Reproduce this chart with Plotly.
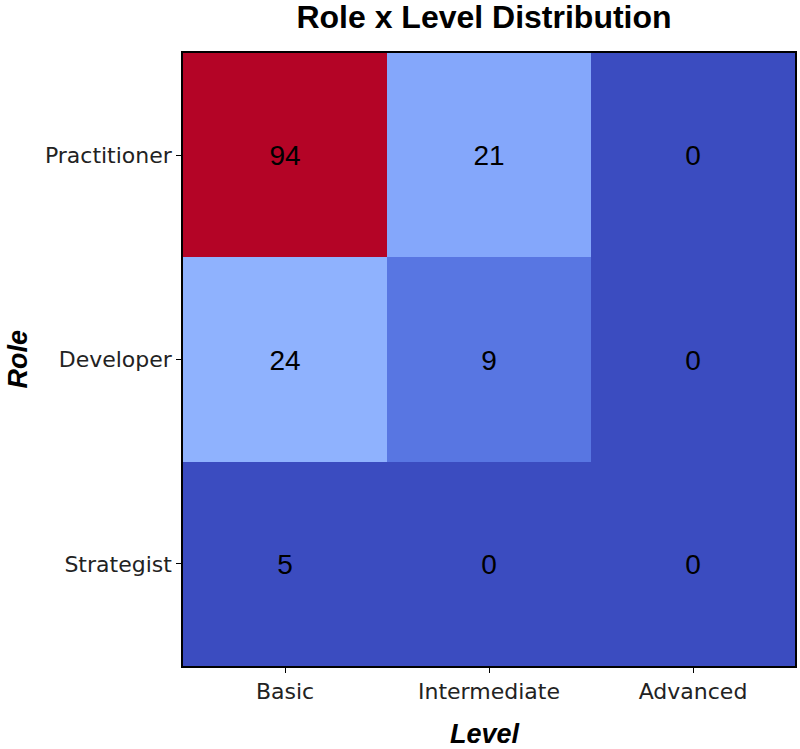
import plotly.graph_objects as go

roles = ["Practitioner", "Developer", "Strategist"]
levels = ["Basic", "Intermediate", "Advanced"]
counts = [
    [94, 21, 0],
    [24, 9, 0],
    [5, 0, 0],
]

coolwarm = [
    (0.0, (59, 76, 192)), (0.03125, (68, 90, 204)), (0.0625, (77, 104, 215)),
    (0.09375, (87, 117, 225)), (0.125, (98, 130, 234)), (0.15625, (108, 142, 241)),
    (0.1875, (119, 154, 247)), (0.21875, (130, 165, 251)), (0.25, (141, 176, 254)),
    (0.28125, (152, 185, 255)), (0.3125, (163, 194, 255)), (0.34375, (174, 201, 253)),
    (0.375, (184, 208, 249)), (0.40625, (194, 213, 244)), (0.4375, (204, 217, 238)),
    (0.46875, (213, 219, 230)), (0.5, (221, 221, 221)), (0.53125, (229, 216, 209)),
    (0.5625, (236, 211, 197)), (0.59375, (241, 204, 184)), (0.625, (245, 196, 172)),
    (0.65625, (247, 187, 159)), (0.6875, (247, 177, 147)), (0.71875, (247, 166, 134)),
    (0.75, (244, 154, 123)), (0.78125, (241, 141, 111)), (0.8125, (236, 127, 99)),
    (0.84375, (229, 112, 88)), (0.875, (222, 96, 77)), (0.90625, (213, 80, 66)),
    (0.9375, (203, 62, 56)), (0.96875, (192, 40, 47)), (1.0, (180, 4, 38)),
]
# lowest band (small counts) shares the base colour, as in the reference
floor = 0.07
colorscale = [[0.0, "rgb(59,76,192)"], [floor, "rgb(59,76,192)"], [floor + 0.0001, "rgb(79,107,217)"]]
colorscale += [[p, "rgb(%d,%d,%d)" % c] for p, c in coolwarm if p > floor]

ARIAL = "Liberation Sans, Arial, sans-serif"

fig = go.Figure(go.Heatmap(
    z=counts, x=levels, y=roles,
    colorscale=colorscale, zmin=0, zmax=94,
    showscale=False,
    text=counts, texttemplate="%{text}",
    textfont=dict(family=ARIAL, size=28, color="black"),
    xgap=0, ygap=0,
))

tickfont = dict(family="DejaVu Sans, sans-serif", size=22, color="#222")
fig.update_layout(
    width=800, height=749,
    margin=dict(l=183, r=5, t=53, b=83),
    paper_bgcolor="white", plot_bgcolor="white",
    title=dict(text="<b>Role x Level Distribution</b>", x=484 / 800, xanchor="center",
               xref="container", yref="container", y=0.993, yanchor="top",
               font=dict(family=ARIAL, size=32, color="black")),
    xaxis=dict(showline=True, mirror=True, linecolor="black", linewidth=1.5,
               ticks="outside", ticklen=5, tickcolor="black", tickfont=tickfont,
               automargin=False),
    yaxis=dict(showline=True, mirror=True, linecolor="black", linewidth=1.5,
               autorange="reversed", automargin=False,
               ticks="outside", ticklen=5, tickcolor="black", tickfont=tickfont),
    annotations=[
        dict(text="<b><i>Level</i></b>", xref="paper", yref="paper",
             x=(485 - 183) / 612, y=(666 - 734) / 613, xanchor="center", yanchor="middle",
             showarrow=False, font=dict(family=ARIAL, size=27, color="black")),
        dict(text="<b><i>Role</i></b>", xref="paper", yref="paper",
             x=(17 - 183) / 612, y=0.5, xanchor="center", yanchor="middle", textangle=-90,
             showarrow=False, font=dict(family=ARIAL, size=27, color="black")),
    ],
)

fig.write_html("out.html")
